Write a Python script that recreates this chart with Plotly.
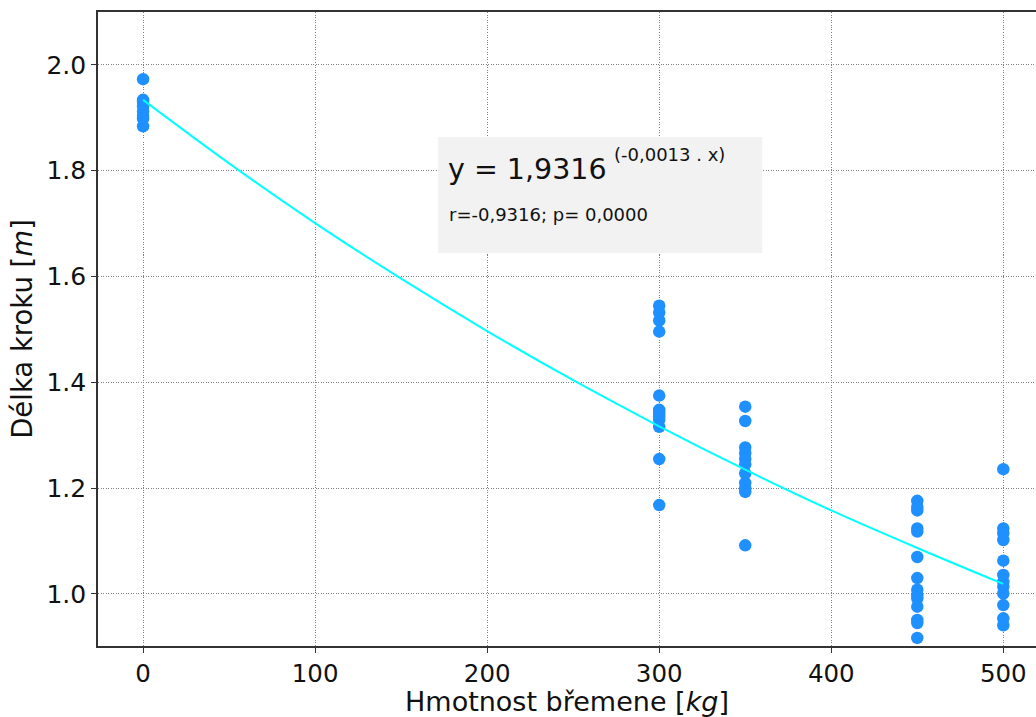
import plotly.graph_objects as go

x0_vals = [1.973, 1.934, 1.930, 1.922, 1.912, 1.904, 1.898, 1.884]
x300_vals = [1.545, 1.532, 1.517, 1.496, 1.375, 1.348, 1.342, 1.336, 1.329, 1.316, 1.255, 1.168]
x350_vals = [1.354, 1.327, 1.277, 1.266, 1.255, 1.245, 1.228, 1.210, 1.200, 1.193, 1.092]
x450_vals = [1.176, 1.165, 1.158, 1.124, 1.118, 1.070, 1.030, 1.008, 0.998, 0.992, 0.976, 0.951, 0.945, 0.917]
x500_vals = [1.236, 1.124, 1.115, 1.102, 1.063, 1.036, 1.023, 1.014, 1.001, 0.979, 0.954, 0.941]

groups = [(0, x0_vals), (300, x300_vals), (350, x350_vals), (450, x450_vals), (500, x500_vals)]

# Fitted curve
fit_x = [0, 50, 100, 150, 200, 250, 300, 350, 400, 450, 500]
fit_y = [1.934, 1.814, 1.701, 1.596, 1.497, 1.404, 1.317, 1.235, 1.158, 1.087, 1.019]

eq_main = "y = 1,9316"
eq_exp = "(-0,0013 . x)"
eq_stats = "r=-0,9316; p= 0,0000"

x_ticks = [0, 100, 200, 300, 400, 500]
y_ticks = [1.0, 1.2, 1.4, 1.6, 1.8, 2.0]

sx, sy = [], []
for xv, ys in groups:
    for yv in ys:
        sx.append(xv)
        sy.append(yv)

# pixel -> data helpers for the annotation box (reference measured in page pixels)
def px_x(p):
    return (p - 143.0) / 1.72

def px_y(p):
    return 2.0 - (p - 65.0) / 529.0

fig = go.Figure()
fig.add_trace(go.Scatter(x=sx, y=sy, mode="markers",
                         marker=dict(color="#1e90ff", size=12.5, line=dict(width=0)),
                         showlegend=False))
fig.add_trace(go.Scatter(x=fit_x, y=fit_y, mode="lines", line=dict(color="cyan", width=2),
                         line_shape="spline", showlegend=False))

fig.add_shape(type="rect", xref="x", yref="y", x0=px_x(438), x1=px_x(762), y0=px_y(253), y1=px_y(137),
              fillcolor="#f2f2f2", line=dict(width=0), layer="above")

font_fam = "DejaVu Sans"
fig.add_annotation(xref="x", yref="y", x=px_x(446), y=px_y(170), text=eq_main, showarrow=False,
                   xanchor="left", yanchor="middle", font=dict(family=font_fam, size=28.5, color="#111"))
fig.add_annotation(xref="x", yref="y", x=px_x(612), y=px_y(155), text=eq_exp, showarrow=False,
                   xanchor="left", yanchor="middle", font=dict(family=font_fam, size=18, color="#111"))
fig.add_annotation(xref="x", yref="y", x=px_x(447), y=px_y(215), text=eq_stats, showarrow=False,
                   xanchor="left", yanchor="middle", font=dict(family=font_fam, size=18, color="#111"))

axis_common = dict(showgrid=True, gridcolor="#808080", griddash="1px,1.5px", gridwidth=1,
                   showline=True, linecolor="#333", linewidth=1.6,
                   ticks="outside", ticklen=5, tickcolor="#333", tickwidth=1.2,
                   zeroline=False)

fig.update_xaxes(range=[-26.2, 519], tickvals=x_ticks, ticktext=[str(v) for v in x_ticks],
                 mirror=True,
                 tickfont=dict(family=font_fam, size=24.5, color="#111"),
                 title=dict(text="Hmotnost břemene [<i>kg</i>]", font=dict(family=font_fam, size=27, color="#111"),
                            standoff=8),
                 **axis_common)
fig.update_yaxes(range=[0.9017, 2.100], tickvals=y_ticks, ticktext=[f"{v:.1f}" for v in y_ticks],
                 tickfont=dict(family=font_fam, size=25, color="#111"),
                 title=dict(text="Délka kroku [<i>m</i>]", font=dict(family=font_fam, size=27.5, color="#111"),
                            standoff=6),
                 **axis_common)

fig.update_layout(width=1036, height=717, margin=dict(l=98, r=0, t=12, b=71),
                  plot_bgcolor="white", paper_bgcolor="white",
                  font=dict(family=font_fam))

fig.write_html("out.html", config={"displayModeBar": False},
               post_script="document.body.style.margin='0';document.body.style.overflow='hidden';")
